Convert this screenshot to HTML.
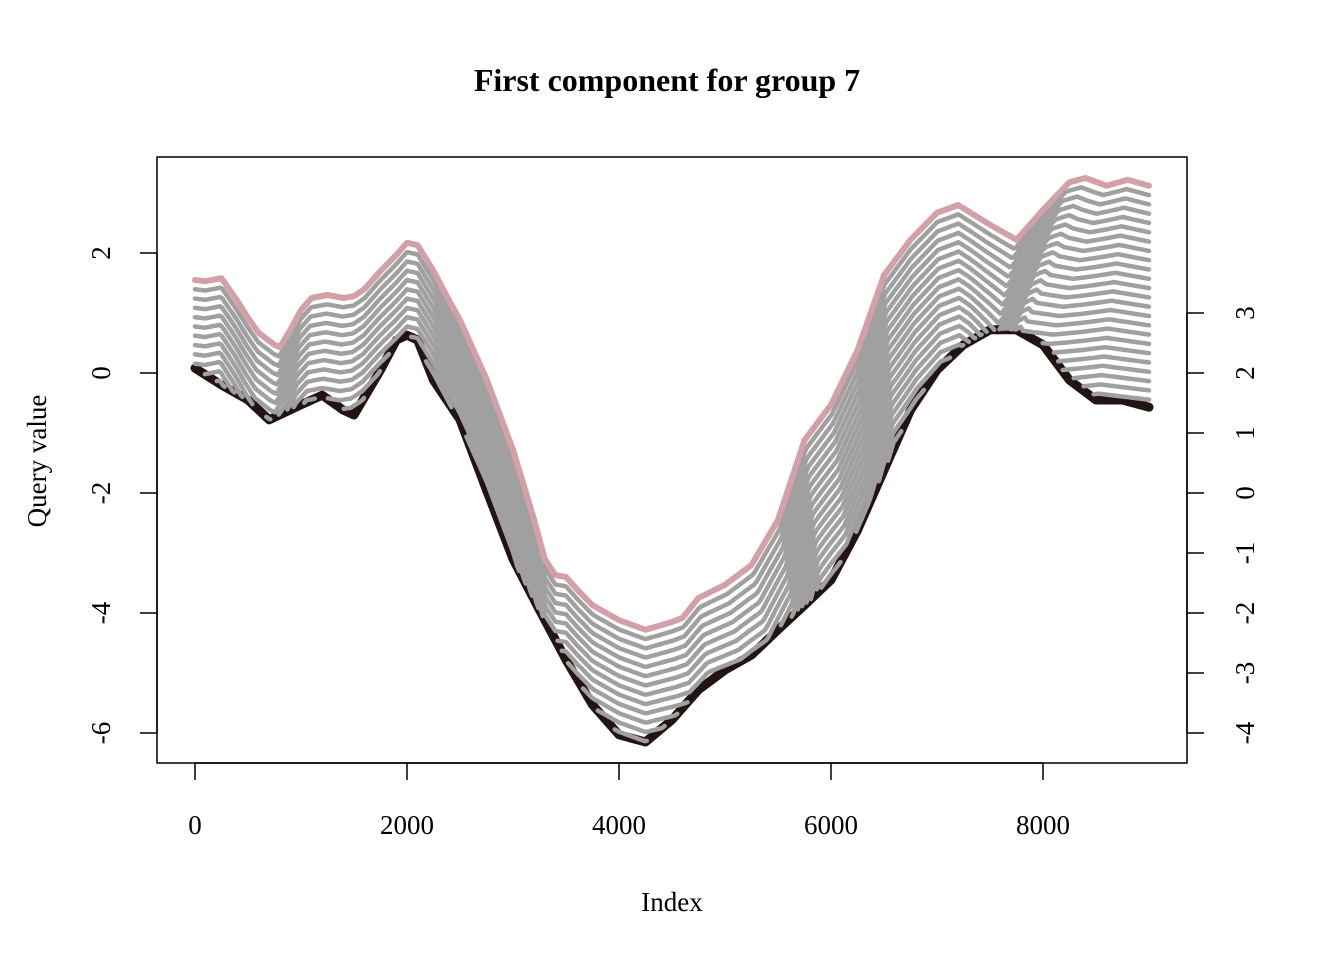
<!DOCTYPE html>
<html><head><meta charset="utf-8"><style>
body{margin:0;background:#fff}
svg text{font-family:"Liberation Serif",serif;fill:#000}
</style></head><body>
<svg id="chart" width="1344" height="960" xmlns="http://www.w3.org/2000/svg">
<text x="667" y="91" text-anchor="middle" font-size="32" font-weight="bold">First component for group 7</text>
<g id="plot"></g>
<rect x="157" y="157" width="1030" height="606" fill="none" stroke="#000" stroke-width="1.5"/>
<g id="axes"></g>
<text x="672" y="911" text-anchor="middle" font-size="27">Index</text>
<text transform="translate(46,461) rotate(-90)" text-anchor="middle" font-size="27">Query value</text>
</svg>
<script>
const queryIdx=[0,100,250,400,500,600,750,800,900,1000,1100,1250,1400,1500,1600,1750,1900,2000,2100,2250,2400,2500,2750,3000,3200,3300,3400,3500,3600,3750,4000,4250,4500,4600,4750,5000,5250,5500,5750,6000,6250,6500,6750,7000,7200,7500,7750,8000,8250,8400,8600,8800,9000];
const queryVal=[1.55,1.53,1.58,1.2,0.92,0.67,0.47,0.43,0.72,1.05,1.25,1.3,1.25,1.28,1.4,1.7,1.97,2.17,2.13,1.7,1.2,0.88,-0.1,-1.28,-2.45,-3.1,-3.37,-3.4,-3.6,-3.87,-4.12,-4.28,-4.15,-4.08,-3.75,-3.53,-3.2,-2.45,-1.12,-0.53,0.38,1.63,2.22,2.67,2.8,2.47,2.22,2.72,3.18,3.25,3.12,3.22,3.12];
const refIdx=[0,250,500,700,1000,1200,1400,1500,1750,1900,2000,2100,2250,2500,2750,3000,3250,3500,3750,4000,4250,4500,4750,5000,5250,5500,5750,6000,6250,6500,6750,7000,7250,7500,7750,8000,8250,8500,8750,9000];
const refVal=[2.08,1.8,1.55,1.22,1.47,1.63,1.38,1.3,2.05,2.55,2.63,2.55,1.88,1.22,0.05,-1.1,-1.95,-2.78,-3.53,-4.03,-4.15,-3.78,-3.28,-2.95,-2.7,-2.28,-1.87,-1.45,-0.62,0.38,1.38,2.05,2.47,2.72,2.72,2.47,1.88,1.55,1.55,1.43];
const warpQ=[0,750,1250,2000,3300,4250,5000,6000,7300,7800,8500,9000];
const warpR=[0,700,1200,2000,3300,4250,5150,6150,7300,7600,7800,9000];
const xTicks=[0,2000,4000,6000,8000];
const yTicks=[2,0,-2,-4,-6];
const y2Ticks=[3,2,1,0,-1,-2,-3,-4];
const refOffset=2;
const nCurves=24;
const stepUnits=0.155;

const X=v=>195+v*0.106;
const Y=v=>373-v*60;
function interp(xs,ys,x){if(x<=xs[0])return ys[0];for(let i=1;i<xs.length;i++){if(x<=xs[i]){const t=(x-xs[i-1])/(xs[i]-xs[i-1]);return ys[i-1]+t*(ys[i]-ys[i-1]);}}return ys[ys.length-1];}
const NS="http://www.w3.org/2000/svg";
const plot=document.getElementById('plot');
function segmentsFor(k){
  const segs=[];let cur=[];
  const dk=k*stepUnits;
  for(let u=0;u<=9000;u+=20){
    const j=interp(warpQ,warpR,u);
    const q=interp(queryIdx,queryVal,u);
    const r=interp(refIdx,refVal,j)-refOffset;
    const G=Math.max(q-r,0.001);
    const t=Math.min(dk/G,1);
    const xi=u+t*(j-u), yv=q+t*(r-q);
    const p=X(xi).toFixed(1)+','+Y(yv).toFixed(1);
    if(t<1){cur.push(p);}
    else{ if(cur.length){cur.push(p);segs.push(cur);cur=[];} }
  }
  if(cur.length)segs.push(cur);
  return segs;
}
function line(pts,col,w,name){
  const p=document.createElementNS(NS,'polyline');
  p.setAttribute('points',pts);p.setAttribute('fill','none');p.setAttribute('stroke',col);
  p.setAttribute('stroke-width',w);p.setAttribute('stroke-linejoin','round');p.setAttribute('stroke-linecap','round');
  
  
  plot.appendChild(p);
}
line(refIdx.map((d,i)=>X(d)+','+Y(refVal[i]-refOffset)).join(' '),'#231414',9,'reference-line');
for(let k=nCurves;k>=1;k--){segmentsFor(k).forEach(s=>{ if(s.length>1) line(s.join(' '),'#a0a0a0',4.5,'alignment-line'); });}
line(queryIdx.map((d,i)=>X(d)+','+Y(queryVal[i])).join(' '),'#d3a0a8',6,'query-line');

const axes=document.getElementById('axes');
function el(tag,attrs,txt){const e=document.createElementNS(NS,tag);for(const k in attrs)e.setAttribute(k,attrs[k]);if(txt!==undefined)e.textContent=txt;axes.appendChild(e);return e;}
let e=el('line',{x1:X(0),x2:X(8000),y1:763,y2:763,stroke:'#000','stroke-width':1.5});


xTicks.forEach(v=>{
  e=el('line',{x1:X(v),x2:X(v),y1:763,y2:780,stroke:'#000','stroke-width':1.5});
  
  
  e=el('text',{x:X(v),y:834,'text-anchor':'middle','font-size':27},String(v));
  
  
});
e=el('line',{x1:157,x2:157,y1:Y(2),y2:Y(-6),stroke:'#000','stroke-width':1.5});


yTicks.forEach(v=>{
  e=el('line',{x1:140,x2:157,y1:Y(v),y2:Y(v),stroke:'#000','stroke-width':1.5});
  
  
  e=el('text',{transform:`translate(110,${Y(v)}) rotate(-90)`,'text-anchor':'middle','font-size':27},String(v));
  
  
});
e=el('line',{x1:1187,x2:1187,y1:Y(3-refOffset),y2:Y(-4-refOffset),stroke:'#000','stroke-width':1.5});


y2Ticks.forEach(v=>{
  const yy=Y(v-refOffset);
  e=el('line',{x1:1187,x2:1204,y1:yy,y2:yy,stroke:'#000','stroke-width':1.5});
  
  
  e=el('text',{transform:`translate(1254,${yy}) rotate(-90)`,'text-anchor':'middle','font-size':27},String(v));
  
  
});
</script>
</body></html>
